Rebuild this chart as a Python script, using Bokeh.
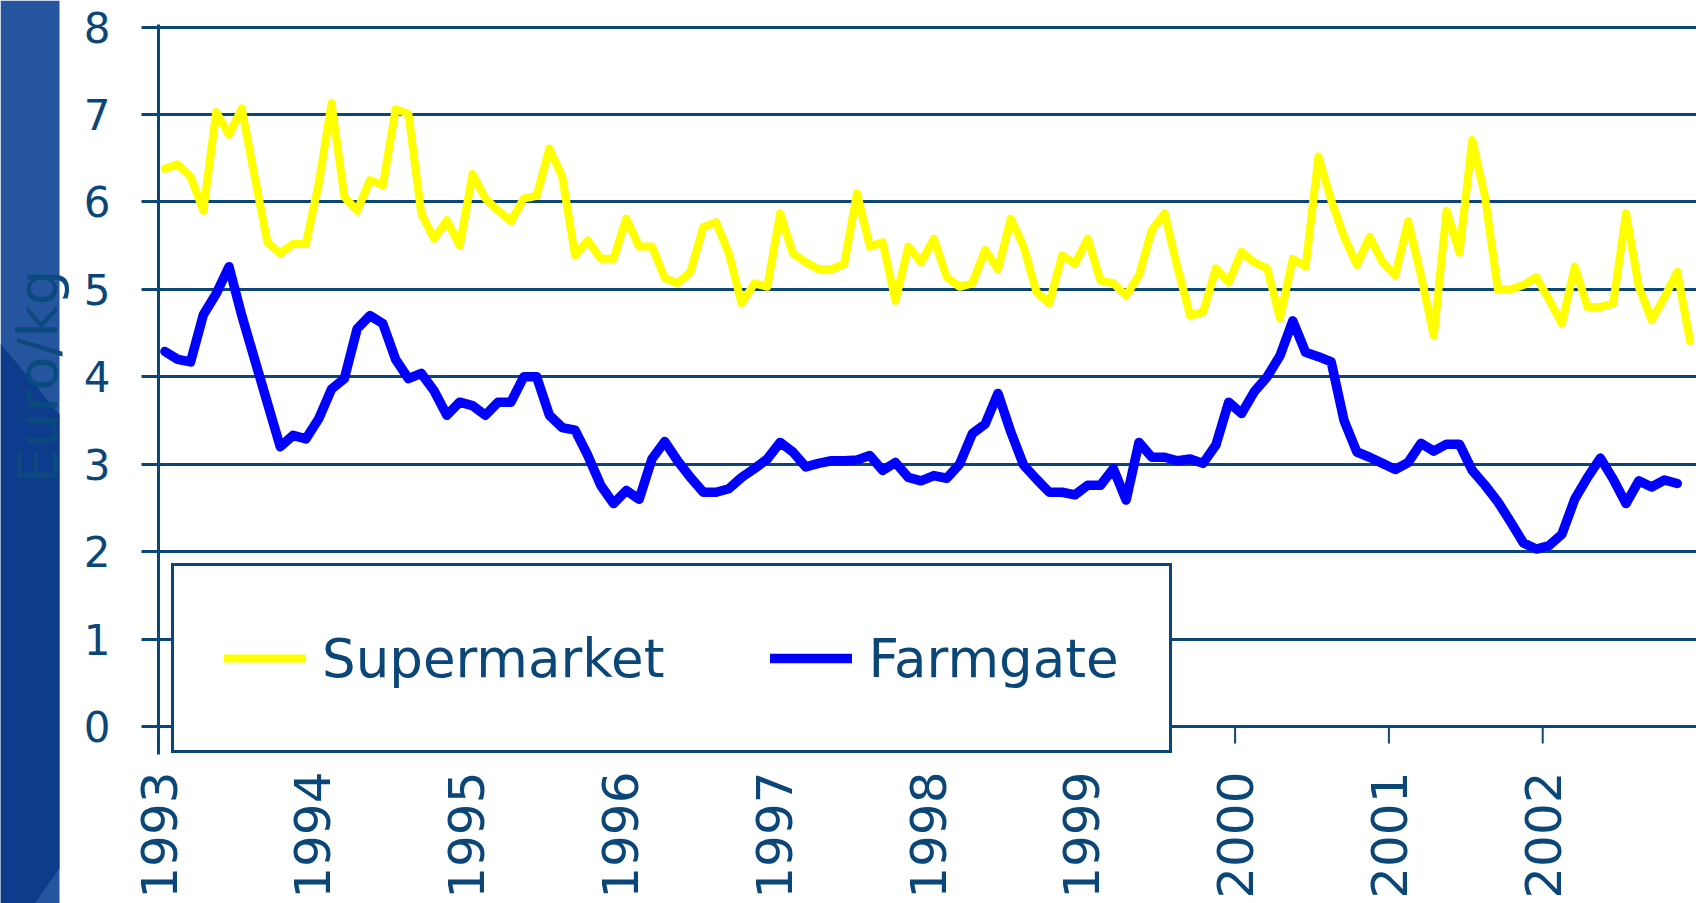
import math
from bokeh.plotting import figure
from bokeh.layouts import row
from bokeh.models import Range1d, FixedTicker, Legend, LegendItem, Label, Span
from bokeh.embed import file_html
from bokeh.resources import INLINE

# ---- data (monthly, Jan 1993 onwards), Euro/kg ----
supermarket = [
    6.38, 6.43, 6.29, 5.90, 7.03, 6.77, 7.07, 6.29, 5.54, 5.41, 5.52, 5.52,
    6.21, 7.13, 6.06, 5.90, 6.25, 6.19, 7.06, 7.01, 5.87, 5.58, 5.79, 5.50,
    6.32, 6.04, 5.90, 5.78, 6.04, 6.07, 6.61, 6.29, 5.39, 5.56, 5.35, 5.35,
    5.81, 5.49, 5.49, 5.13, 5.07, 5.20, 5.71, 5.77, 5.41, 4.84, 5.07, 5.03,
    5.87, 5.41, 5.31, 5.23, 5.23, 5.29, 6.10, 5.49, 5.54, 4.87, 5.49, 5.31,
    5.58, 5.14, 5.03, 5.07, 5.45, 5.23, 5.81, 5.49, 4.97, 4.84, 5.39, 5.29,
    5.58, 5.10, 5.07, 4.93, 5.16, 5.68, 5.87, 5.25, 4.70, 4.74, 5.24, 5.08,
    5.43, 5.31, 5.24, 4.67, 5.35, 5.26, 6.52, 6.02, 5.60, 5.28, 5.60, 5.31,
    5.16, 5.78, 5.16, 4.47, 5.90, 5.42, 6.71, 6.06, 5.00, 5.00, 5.05, 5.14,
    4.88, 4.61, 5.26, 4.80, 4.80, 4.84, 5.87, 5.03, 4.65, 4.91, 5.20, 4.41,
]
farmgate = [
    4.29, 4.20, 4.17, 4.71, 4.95, 5.26, 4.70, 4.20, 3.70, 3.20, 3.33, 3.29,
    3.52, 3.86, 3.98, 4.55, 4.70, 4.61, 4.20, 3.98, 4.04, 3.84, 3.56, 3.71,
    3.67, 3.56, 3.71, 3.71, 4.00, 4.00, 3.56, 3.42, 3.39, 3.10, 2.76, 2.55,
    2.70, 2.60, 3.06, 3.26, 3.04, 2.85, 2.68, 2.68, 2.72, 2.85, 2.95, 3.06,
    3.25, 3.14, 2.97, 3.01, 3.04, 3.04, 3.05, 3.10, 2.93, 3.02, 2.85, 2.81,
    2.87, 2.84, 3.00, 3.35, 3.46, 3.81, 3.37, 2.99, 2.83, 2.68, 2.68, 2.65,
    2.76, 2.76, 2.95, 2.59, 3.25, 3.08, 3.08, 3.04, 3.06, 3.01, 3.22, 3.71,
    3.58, 3.83, 4.00, 4.24, 4.64, 4.28, 4.23, 4.17, 3.50, 3.14, 3.08, 3.01,
    2.94, 3.02, 3.24, 3.15, 3.23, 3.23, 2.93, 2.76, 2.57, 2.34, 2.10, 2.03,
    2.07, 2.20, 2.60, 2.85, 3.07, 2.83, 2.55, 2.81, 2.74, 2.82, 2.78,
]
years = list(range(1993, 2003))
year_labels = [str(y) for y in years]
y_ticks = list(range(0, 9))
series_names = ["Supermarket", "Farmgate"]
y_title = "Euro/kg"

start_year = years[0]
sm_x = [start_year + (i + 0.5) / 12 for i in range(len(supermarket))]
fg_x = [start_year + (i + 0.5) / 12 for i in range(len(farmgate))]

NAVY = "#0a4678"
FONT = "DejaVu Sans"

BAND_W = 76
Y_START, Y_END = -0.32, 8.03
FRAME_TOP = 24
FRAME_H = 730
PX_PER_UNIT = FRAME_H / (Y_END - Y_START)
TICK_LEN = 17

# ---- main chart ----
p = figure(width=1696 - BAND_W, height=903,
           x_range=Range1d(1993, 2003), y_range=Range1d(Y_START, Y_END),
           output_backend="svg", toolbar_location=None,
           min_border_left=158 - BAND_W, min_border_right=0,
           min_border_top=FRAME_TOP, min_border_bottom=903 - FRAME_TOP - FRAME_H)
p.frame_align = False
p.outline_line_color = None
p.background_fill_color = "white"
p.border_fill_color = "white"

r_sm = p.line(sm_x, supermarket, line_color="#ffff00", line_width=8,
              line_join="round", line_cap="round")
r_fg = p.line(fg_x, farmgate, line_color="#0000ff", line_width=9.5,
              line_join="round", line_cap="round")

p.xgrid.visible = False
p.ygrid.ticker = FixedTicker(ticks=y_ticks[1:])
p.ygrid.grid_line_color = NAVY
p.ygrid.grid_line_width = 3

ya = p.yaxis[0]
ya.ticker = FixedTicker(ticks=y_ticks)
ya.axis_line_color = NAVY
ya.axis_line_width = 3
ya.major_tick_line_color = NAVY
ya.major_tick_line_width = 3
ya.major_tick_out = TICK_LEN
ya.major_tick_in = 0
ya.minor_tick_line_color = None
ya.major_label_text_font = FONT
ya.major_label_text_font_size = "42px"
ya.major_label_text_color = NAVY
ya.major_label_standoff = 31

# bottom axis only carries the (rotated) year labels
xa = p.xaxis[0]
xa.ticker = FixedTicker(ticks=years)
xa.major_label_overrides = {y: s for y, s in zip(years, year_labels)}
xa.major_label_orientation = math.pi / 2
xa.axis_line_color = None
xa.major_tick_line_color = None
xa.major_tick_out = 0
xa.major_tick_in = 0
xa.minor_tick_line_color = None
xa.major_label_text_font = FONT
xa.major_label_text_font_size = "50px"
xa.major_label_text_color = NAVY
xa.major_label_standoff = 17

legend = Legend(
    items=[LegendItem(label=series_names[0], renderers=[r_sm]),
           LegendItem(label=series_names[1], renderers=[r_fg])],
    location=(13, 1), orientation="horizontal",
    padding=50, spacing=106, margin=0,
    glyph_width=82, glyph_height=84, label_height=84, label_width=230,
    label_standoff=16,
    label_text_font=FONT, label_text_font_size="53px", label_text_color=NAVY,
    border_line_color=NAVY, border_line_width=3, border_line_alpha=1.0,
    background_fill_color="white", background_fill_alpha=1.0,
)
p.add_layout(legend)

# zero line (category axis) and year tick marks drawn above the legend box
p.add_layout(Span(location=0, dimension="width", line_color=NAVY,
                  line_width=3, level="overlay"))
p.segment(x0=years, y0=[0] * len(years), x1=years,
          y1=[-TICK_LEN / PX_PER_UNIT] * len(years),
          line_color=NAVY, line_width=2, level="overlay")

# ---- left decorative band with the axis title ----
band = figure(width=BAND_W, height=903, x_range=Range1d(0, BAND_W), y_range=Range1d(0, 903),
              output_backend="svg", toolbar_location=None,
              min_border_left=0, min_border_right=0, min_border_top=0, min_border_bottom=0)
band.frame_align = False
band.axis.visible = False
band.grid.visible = False
band.outline_line_color = None
band.background_fill_color = "white"
band.border_fill_color = "white"
band.quad(left=[0], right=[59], bottom=[0], top=[903], fill_color="#26559f", line_color=None)
band.patch([0, 59, 59, 34, 0], [560, 489, 35, 0, 0], fill_color="#0c3c8b", line_color=None)
band.add_layout(Label(x=37, y=527, text=y_title, angle=math.pi / 2,
                      text_align="center", text_baseline="middle",
                      text_font=FONT, text_font_size="56px", text_color="#0b4a7e"))

layout = row(band, p, spacing=0)
open("out.html", "w").write(file_html(layout, INLINE))
